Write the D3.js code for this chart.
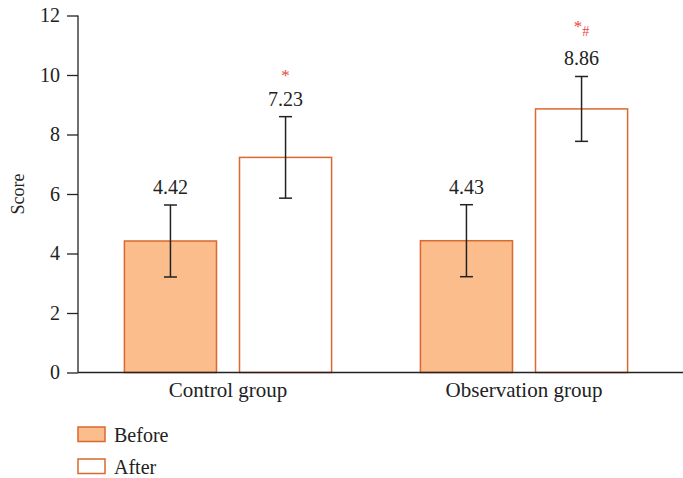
<!DOCTYPE html>
<html>
<head>
<meta charset="utf-8">
<script src="https://cdn.jsdelivr.net/npm/d3@7/dist/d3.min.js"></script>
<style>
  html, body { margin: 0; padding: 0; background: #fff; }
  svg { display: block; font-family: "Liberation Serif", "Times New Roman", serif; }
</style>
</head>
<body>
<svg id="chart" width="683" height="478"></svg>
<script>
const groups = ["Control group", "Observation group"];
const seriesNames = ["Before", "After"];
const beforeValues = [4.42, 4.43];
const afterValues = [7.23, 8.86];
const beforeSD = [1.21, 1.21];
const afterSD = [1.37, 1.09];
const afterMarks = [["*", ""], ["*", "#"]];
const yTicks = [0, 2, 4, 6, 8, 10, 12];

const svg = d3.select("#chart");
const fillColor = "#fabd8b";
const strokeColor = "#d9692e";
const markColor = "#e8453c";

const y = d3.scaleLinear().domain([0, 12]).range([372.5, 15.5]);
const x0 = d3.scaleBand().domain(groups).range([80, 672]).paddingInner(0.3).paddingOuter(0.15);
const x1 = d3.scaleBand().domain(seriesNames).range([0, x0.bandwidth()]).paddingInner(0.2);

const data = [];
groups.forEach((g, i) => {
  data.push({g, s: "Before", v: beforeValues[i], sd: beforeSD[i], mark: ["", ""]});
  data.push({g, s: "After", v: afterValues[i], sd: afterSD[i], mark: afterMarks[i]});
});

// bars
svg.append("g").selectAll("rect").data(data).join("rect")
  .attr("x", d => x0(d.g) + x1(d.s))
  .attr("y", d => y(d.v))
  .attr("width", x1.bandwidth())
  .attr("height", d => y(0) - y(d.v))
  .attr("fill", d => d.s === "Before" ? fillColor : "#fff")
  .attr("stroke", strokeColor)
  .attr("stroke-width", 1.5);

// error bars
const eb = svg.append("g").attr("stroke", "#222").attr("stroke-width", 1.5);
data.forEach(d => {
  const cx = x0(d.g) + x1(d.s) + x1.bandwidth() / 2;
  const top = y(d.v + d.sd), bot = y(d.v - d.sd);
  eb.append("line").attr("x1", cx).attr("x2", cx).attr("y1", top).attr("y2", bot);
  eb.append("line").attr("x1", cx - 6.5).attr("x2", cx + 6.5).attr("y1", top).attr("y2", top);
  eb.append("line").attr("x1", cx - 6.5).attr("x2", cx + 6.5).attr("y1", bot).attr("y2", bot);
  svg.append("text")
    .attr("x", cx).attr("y", top - 11)
    .attr("text-anchor", "middle")
    .attr("font-size", 20).attr("fill", "#222")
    .text(d.v.toFixed(2));
  if (d.mark[0]) {
    const off = d.mark[1] ? 44 : 36;
    const t = svg.append("text")
      .attr("x", cx).attr("y", top - off)
      .attr("text-anchor", "middle")
      .attr("font-size", 17).attr("fill", markColor);
    t.append("tspan").text(d.mark[0]);
    if (d.mark[1]) t.append("tspan").attr("dy", 4).attr("font-size", 14).text(d.mark[1]);
  }
});

// y axis
const yAxis = svg.append("g").attr("transform", "translate(78,0)")
  .call(d3.axisLeft(y).tickValues(yTicks).tickSize(11).tickPadding(7));
yAxis.select(".domain").attr("stroke", "#222").attr("stroke-width", 1.3).attr("d", `M0,${y(12)}V${y(0)}`);
yAxis.selectAll(".tick line").attr("stroke", "#222").attr("stroke-width", 1.3);
yAxis.selectAll(".tick text").attr("font-size", 20).attr("fill", "#222")
  .attr("font-family", "Liberation Serif, serif");

// x axis
const xAxis = svg.append("g").attr("transform", `translate(0,${y(0)})`)
  .call(d3.axisBottom(x0).tickSize(0).tickPadding(10));
xAxis.select(".domain").attr("stroke", "#222").attr("stroke-width", 1.3).attr("d", `M78,0H683`);
xAxis.selectAll(".tick text").attr("font-size", 21).attr("fill", "#222")
  .attr("font-family", "Liberation Serif, serif");

// y label
svg.append("text")
  .attr("transform", `translate(24,${(y(0) + y(12)) / 2}) rotate(-90)`)
  .attr("text-anchor", "middle")
  .attr("font-size", 18).attr("fill", "#222")
  .text("Score");

// legend
const legend = svg.append("g");
seriesNames.forEach((s, i) => {
  const gy = 427 + i * 32;
  legend.append("rect").attr("x", 78).attr("y", gy).attr("width", 27).attr("height", 14.5)
    .attr("fill", s === "Before" ? fillColor : "#fff")
    .attr("stroke", strokeColor).attr("stroke-width", 1.5);
  legend.append("text").attr("x", 114).attr("y", gy + 14.5)
    .attr("font-size", 20).attr("fill", "#222").text(s);
});
</script>
</body>
</html>
